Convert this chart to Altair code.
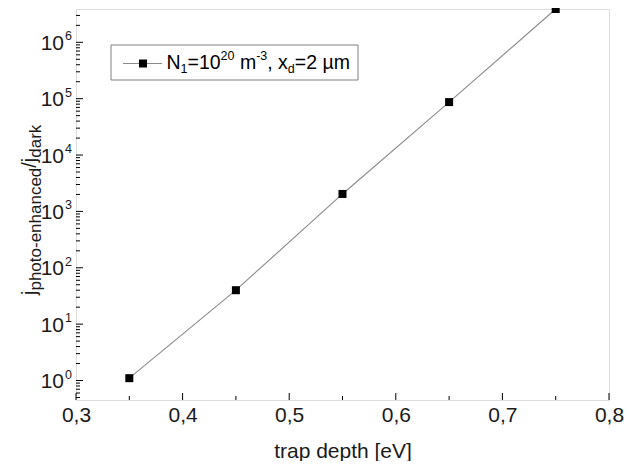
import altair as alt
import pandas as pd

# ---- data ----
depth = [0.35, 0.45, 0.55, 0.65, 0.75]
ratio = [1.1, 40, 2040, 87000, 3.9e6]

x_major = [0.3, 0.4, 0.5, 0.6, 0.7, 0.8]
x_minor = [0.35, 0.45, 0.55, 0.65, 0.75]
y_major = [1, 10, 100, 1e3, 1e4, 1e5, 1e6]
y_exp = ["0", "1", "2", "3", "4", "5", "6"]
y_minor = [k * 10.0 ** n for n in range(-1, 7) for k in range(2, 10)
           if 0.451 < k * 10.0 ** n < 3.9e6]

# ---- layout ----
W, H = 533, 391
FONT = "Liberation Sans"
TXT = "#1a1a1a"
XTITLE = "trap depth [eV]"
xscale = alt.Scale(domain=[0.3, 0.8], nice=False, zero=False)
yscale = alt.Scale(type="log", domain=[0.451, 3.9e6], nice=False)
xaxis = alt.Axis(values=x_major, ticks=False, domain=False, grid=False,
                 labelExpr="replace(format(datum.value, '.1f'), '.', ',')",
                 labelFontSize=21, labelPadding=4, labelFlush=False,
                 labelOverlap=False, labelColor=TXT,
                 titleFontSize=21, titleFontWeight="normal",
                 titlePadding=15, titleColor=TXT)

ARIAL = {'N': .722, '1': .556, '=': .584, '0': .556, '2': .556, 'm': .833, '-': .333,
         '3': .556, ',': .278, ' ': .278, 'x': .5, 'd': .556, 'µ': .576, 'j': .222,
         '/': .278, 'p': .556, 'h': .556, 'o': .556, 't': .278, 'e': .556, 'n': .556,
         'a': .556, 'c': .5, 'r': .333, 'k': .5}


def tw(s, size):
    return sum(ARIAL.get(c, .556) for c in s) * size


def X(field):
    return alt.X(field, scale=xscale, axis=xaxis, title=XTITLE)


def Y(field):
    return alt.Y(field, scale=yscale, axis=None)


dummy = pd.DataFrame({"a": [0]})
df = pd.DataFrame({"depth": depth, "ratio": ratio})

layers = []

layers.append(alt.Chart(df).mark_line(color="#8a8a8a", strokeWidth=1.1).encode(
    x=X("depth:Q"), y=Y("ratio:Q")))
layers.append(alt.Chart(df).mark_point(shape="square", filled=True, size=64,
                                       color="black", opacity=1).encode(
    x=X("depth:Q"), y=Y("ratio:Q")))

# ---- inward ticks ----
ymaj = pd.DataFrame({"v": y_major, "e": y_exp})
ymin = pd.DataFrame({"v": y_minor})
xmaj = pd.DataFrame({"v": x_major})
xmin = pd.DataFrame({"v": x_minor})

layers.append(alt.Chart(ymaj).mark_rule(color="black", strokeWidth=1).encode(
    y=Y("v:Q"), x=alt.value(0), x2=alt.value(7)))
layers.append(alt.Chart(ymin).mark_rule(color="black", strokeWidth=1).encode(
    y=Y("v:Q"), x=alt.value(0), x2=alt.value(4)))
layers.append(alt.Chart(xmaj).mark_rule(color="black", strokeWidth=1).encode(
    x=X("v:Q"), y=alt.value(H), y2=alt.value(H - 7)))
layers.append(alt.Chart(xmin).mark_rule(color="black", strokeWidth=1).encode(
    x=X("v:Q"), y=alt.value(H), y2=alt.value(H - 4)))

# ---- y tick labels 10^n ----
layers.append(alt.Chart(ymaj).mark_text(align="right", baseline="alphabetic", dy=7.5,
                                        fontSize=21, color=TXT).encode(
    y=Y("v:Q"), x=alt.value(-12), text=alt.value("10")))
layers.append(alt.Chart(ymaj).mark_text(align="left", baseline="alphabetic", dy=-2,
                                        fontSize=12.5, color=TXT).encode(
    y=Y("v:Q"), x=alt.value(-11), text="e:N"))

# ---- y axis title (rotated, with subscripts) ----
t_main, t_sub = 20, 17
title_segs = [("j", "n"), ("photo-enhanced", "s"), ("/", "n"), ("j", "n"), ("dark", "s")]
ty = 286.0
for s, k in title_segs:
    size = t_main if k == "n" else t_sub
    bx = -40 if k == "n" else -35
    layers.append(alt.Chart(dummy).mark_text(text=s, fontSize=size, align="left",
                                             baseline="alphabetic", angle=270,
                                             color=TXT).encode(
        x=alt.value(bx), y=alt.value(ty)))
    ty -= tw(s, size)

# ---- legend ----
layers.append(alt.Chart(dummy).mark_rect(fill="white", stroke="#808080",
                                         strokeWidth=1).encode(
    x=alt.value(35), x2=alt.value(282), y=alt.value(36), y2=alt.value(71)))
layers.append(alt.Chart(dummy).mark_rule(color="#8a8a8a", strokeWidth=1.1).encode(
    x=alt.value(47), x2=alt.value(86), y=alt.value(54.5)))
layers.append(alt.Chart(dummy).mark_point(shape="square", filled=True, size=64,
                                          color="black", opacity=1).encode(
    x=alt.value(67), y=alt.value(54.5)))

l_main, l_small = 19.5, 12.5
leg_segs = [("N", "n", 0), ("1", "b", 0), ("=10", "n", 0), ("20", "p", 0),
            ("m", "n", 1), ("-3", "p", 0), (",", "n", 0), ("x", "n", 1),
            ("d", "b", 0), ("=2 µm", "n", 0)]
lx = 90.5
base = 60.3
for s, k, lead in leg_segs:
    size = l_main if k == "n" else l_small
    lx += lead * ARIAL[' '] * l_main
    yy = base if k == "n" else (base + 3.5 if k == "b" else base - 9)
    layers.append(alt.Chart(dummy).mark_text(text=s, fontSize=size, align="left",
                                             baseline="alphabetic", color="black").encode(
        x=alt.value(lx), y=alt.value(yy)))
    lx += tw(s, size)

chart = alt.layer(*layers).properties(
    width=W, height=H,
    autosize=alt.AutoSizeParams(type="none"),
    padding={"left": 68, "top": 1, "right": 15, "bottom": 61},
).configure_view(stroke="#222222", strokeWidth=1.5).configure(font=FONT)

chart.save("out.html", embed_options={"renderer": "svg", "actions": False})
